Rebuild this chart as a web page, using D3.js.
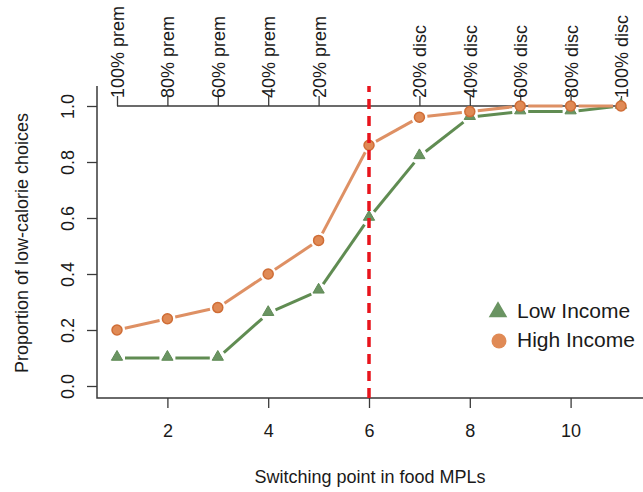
<!DOCTYPE html>
<html>

<head>
    <title>Switching point chart</title>
    <meta charset='utf-8'>
    <style>
        body {
            margin: 0;
            background: white;
        }

        text {
            font-family: "Liberation Sans", Arial, sans-serif;
            fill: #1a1a1a;
        }
    </style>
</head>

<script src="https://d3js.org/d3.v7.min.js"></script>

<div id="my_dataviz"></div>

<script>
    // data
    const switchPoints = [1, 2, 3, 4, 5, 6, 7, 8, 9, 10, 11]
    const lowIncome = [0.10, 0.10, 0.10, 0.26, 0.34, 0.60, 0.82, 0.96, 0.98, 0.98, 1.00]
    const highIncome = [0.20, 0.24, 0.28, 0.40, 0.52, 0.86, 0.96, 0.98, 1.00, 1.00, 1.00]
    const bottomTicks = [2, 4, 6, 8, 10]
    const leftTicks = [0, 0.2, 0.4, 0.6, 0.8, 1.0]
    const topTicks = [1, 2, 3, 4, 5, 7, 8, 9, 10, 11]
    const topLabels = ["100% prem", "80% prem", "60% prem", "40% prem", "20% prem",
        "20% disc", "40% disc", "60% disc", "80% disc", "100% disc"]
    const cutoff = 6
    const seriesNames = ["Low Income", "High Income"]

    const width = 643,
        height = 492
    const plot = { left: 97, right: 643, top: 86, bottom: 398 }

    const svg = d3.select("#my_dataviz")
        .append("svg")
        .attr("width", width)
        .attr("height", height)

    const x = d3.scaleLinear().domain([1, 11]).range([117, 621])
    const y = d3.scaleLinear().domain([0, 1]).range([386, 106])

    const axisColor = "#3a3a3a"

    // L-shaped box
    svg.append("path")
        .attr("d", `M${plot.left},${plot.top}V${plot.bottom}H${plot.right}`)
        .attr("fill", "none")
        .attr("stroke", axisColor)
        .attr("stroke-width", 1.5)

    // bottom axis
    const gx = svg.append("g")
        .attr("transform", `translate(0, ${plot.bottom})`)
        .call(d3.axisBottom(x).tickValues(bottomTicks).tickSize(10).tickPadding(16))
    gx.select(".domain").remove()
    gx.selectAll("line").attr("stroke", axisColor).attr("stroke-width", 1.3)
    gx.selectAll("text").style("font-size", "18px").attr("fill", "#1a1a1a")

    // left axis, labels parallel to axis like R
    const gy = svg.append("g")
        .attr("transform", `translate(${plot.left}, 0)`)
        .call(d3.axisLeft(y).tickValues(leftTicks).tickSize(10).tickFormat(d3.format(".1f")))
    gy.select(".domain").remove()
    gy.selectAll("line").attr("stroke", axisColor).attr("stroke-width", 1.3)
    gy.selectAll("text")
        .style("font-size", "18px")
        .attr("fill", "#1a1a1a")
        .attr("x", 0)
        .attr("dy", 0)
        .attr("text-anchor", "middle")
        .attr("transform", "translate(-23,0) rotate(-90)")

    // top axis drawn at the 1.0 level
    const gt = svg.append("g")
        .attr("transform", `translate(0, ${y(1)})`)
        .call(d3.axisTop(x).tickValues(topTicks).tickSize(10).tickSizeOuter(0)
            .tickFormat((d, i) => topLabels[i]))
    gt.select(".domain")
        .attr("d", `M${x(1)},0H${x(11)}`)
        .attr("stroke", axisColor)
        .attr("stroke-width", 1.3)
    gt.selectAll("line").attr("stroke", axisColor).attr("stroke-width", 1.3)
    gt.selectAll("text")
        .style("font-size", "18px")
        .attr("fill", "#1a1a1a")
        .attr("x", 0)
        .attr("y", 0)
        .attr("dy", "0.36em")
        .attr("text-anchor", "start")
        .attr("transform", "translate(0,-8) rotate(-90)")

    // axis titles
    svg.append("text")
        .attr("x", 370)
        .attr("y", 483)
        .attr("text-anchor", "middle")
        .style("font-size", "18px")
        .text("Switching point in food MPLs")

    svg.append("text")
        .attr("transform", "translate(28, 243) rotate(-90)")
        .attr("text-anchor", "middle")
        .style("font-size", "18px")
        .text("Proportion of low-calorie choices")

    // R type="b": segments with a gap around every point
    const gap = 8
    function drawSeries(values, lineColor) {
        const pts = switchPoints.map((d, i) => [x(d), y(values[i])])
        const segs = d3.pairs(pts).map(([a, b]) => {
            const dx = b[0] - a[0], dy = b[1] - a[1]
            const len = Math.sqrt(dx * dx + dy * dy)
            const ux = dx / len, uy = dy / len
            return [a[0] + ux * gap, a[1] + uy * gap, b[0] - ux * gap, b[1] - uy * gap, len]
        }).filter(s => s[4] > 2 * gap)
        svg.append("g")
            .selectAll("line")
            .data(segs)
            .join("line")
            .attr("x1", d => d[0])
            .attr("y1", d => d[1])
            .attr("x2", d => d[2])
            .attr("y2", d => d[3])
            .attr("stroke", lineColor)
            .attr("stroke-width", 3)
    }

    const green = { line: "#608c52", fill: "#6a9462", stroke: "#5f8a55" }
    const orange = { line: "#de9064", fill: "#e08a55", stroke: "#cf6d36" }

    drawSeries(lowIncome, green.line)
    drawSeries(highIncome, orange.line)

    const triangle = d3.symbol().type(d3.symbolTriangle).size(55)

    svg.append("g")
        .selectAll("path")
        .data(lowIncome)
        .join("path")
        .attr("d", triangle)
        .attr("transform", (d, i) => `translate(${x(switchPoints[i])}, ${y(d) - 1})`)
        .attr("fill", green.fill)
        .attr("stroke", green.stroke)
        .attr("stroke-width", 1)

    svg.append("g")
        .selectAll("circle")
        .data(highIncome)
        .join("circle")
        .attr("cx", (d, i) => x(switchPoints[i]))
        .attr("cy", d => y(d))
        .attr("r", 5)
        .attr("fill", orange.fill)
        .attr("stroke", orange.stroke)
        .attr("stroke-width", 1.5)

    // cut-off line
    svg.append("line")
        .attr("x1", x(cutoff))
        .attr("x2", x(cutoff))
        .attr("y1", plot.bottom)
        .attr("y2", plot.top)
        .attr("stroke", "#e8141c")
        .attr("stroke-width", 3.5)
        .attr("stroke-dasharray", "10,7")

    // legend
    const legend = svg.append("g")
    legend.append("path")
        .attr("d", d3.symbol().type(d3.symbolTriangle).size(150))
        .attr("transform", "translate(498, 312)")
        .attr("fill", green.fill)
    legend.append("circle")
        .attr("cx", 499)
        .attr("cy", 341)
        .attr("r", 7.5)
        .attr("fill", orange.fill)
    legend.selectAll("text.leg")
        .data(seriesNames)
        .join("text")
        .attr("class", "leg")
        .attr("x", 517)
        .attr("y", (d, i) => 318 + i * 29)
        .style("font-size", "21px")
        .text(d => d)
</script>

</html>
